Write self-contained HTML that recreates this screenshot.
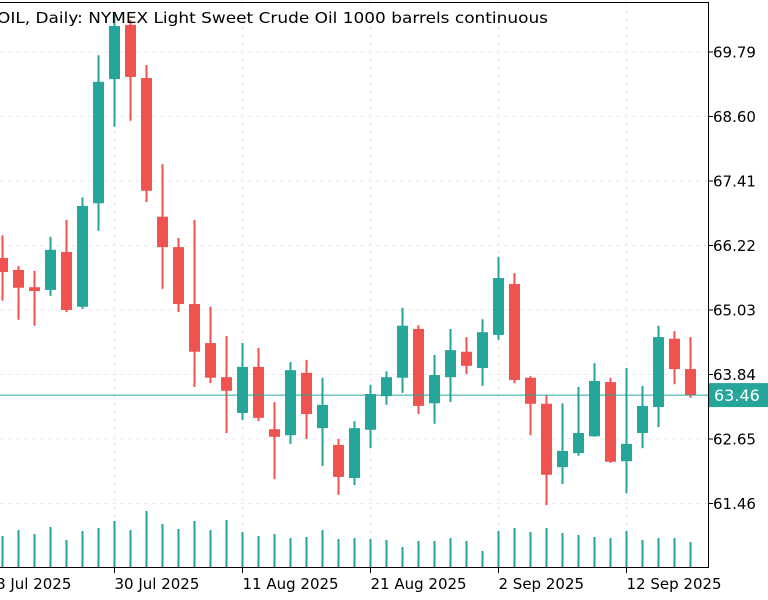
<!DOCTYPE html>
<html><head><meta charset="utf-8"><style>
html,body{margin:0;padding:0;background:#fff;}
svg{display:block;font-family:"DejaVu Sans","Liberation Sans",sans-serif;}
</style></head><body>
<svg id="chart" width="768" height="600" viewBox="0 0 768 600" xmlns="http://www.w3.org/2000/svg">
<g id="grid"></g>
<g id="vol"></g>
<g id="candles"></g>
<g id="axes"></g>
<text x="-3" y="23" font-size="15" fill="#000" textLength="551" lengthAdjust="spacingAndGlyphs">OIL, Daily:  NYMEX Light Sweet Crude Oil 1000 barrels continuous</text>
</svg>
<script>
const opens  = [65.99,65.77,65.45,65.40,66.10,65.09,67.00,69.29,70.29,69.31,66.75,66.19,65.14,64.42,63.79,63.13,63.98,62.83,62.72,63.87,62.85,62.54,61.93,62.82,63.44,63.78,64.68,63.31,63.79,64.26,63.96,64.57,65.51,63.78,63.30,62.13,62.39,62.70,63.70,62.24,62.76,63.24,64.50,63.94];
const highs  = [66.41,65.84,65.75,66.38,66.69,67.11,69.73,70.49,70.38,69.55,67.72,66.36,66.69,65.09,64.55,64.42,64.33,63.33,64.07,64.11,63.78,62.65,62.98,63.65,63.90,65.07,64.75,64.20,64.68,64.53,64.86,66.01,65.71,63.81,63.46,63.31,63.61,64.05,63.78,63.96,63.63,64.74,64.64,64.53];
const lows   = [65.20,64.85,64.74,65.29,64.99,65.05,66.49,68.41,68.52,67.02,65.42,64.99,63.61,63.68,62.76,63.00,62.98,61.91,62.56,62.65,62.15,61.62,61.80,62.48,63.28,63.50,63.11,62.93,63.33,63.85,63.63,64.48,63.68,62.72,61.43,61.82,62.34,62.69,62.21,61.65,62.48,62.87,63.66,63.41];
const closes = [65.73,65.44,65.38,66.14,65.03,66.95,69.24,70.27,69.33,67.23,66.19,65.14,64.26,63.78,63.54,63.98,63.04,62.69,63.92,63.11,63.28,61.95,62.85,63.48,63.79,64.74,63.26,63.83,64.29,64.00,64.62,65.62,63.74,63.30,61.99,62.43,62.76,63.72,62.23,62.56,63.26,64.53,63.94,63.46];
const volumes = [31,37,33,40,27,36,39,46,37,56,43,38,46,37,47,35,31,33,29,30,37,28,29,28,27,20,26,26,29,26,16,36,39,35,39,34,32,30,29,36,27,29,29,25];
const priceTicks = [69.79,68.60,67.41,66.22,65.03,63.84,62.65,61.46];
const dateTickIndex = [-1,7,15,23,31,39];
const dateTickLabels = ["18 Jul 2025","30 Jul 2025","11 Aug 2025","21 Aug 2025","2 Sep 2025","12 Sep 2025"];
const lastPrice = 63.46;

const NS="http://www.w3.org/2000/svg";
const PX=708, BOTTOM=567;
const x = i => 2.5 + i*16;
const y = p => 52 + (69.79 - p)*54.2;
const vy = v => BOTTOM - v;
const UP="#26a69a", DN="#ef5350";
function mk(tag, attrs, parent){const e=document.createElementNS(NS,tag);for(const k in attrs)e.setAttribute(k,attrs[k]);parent.appendChild(e);return e;}
const grid=document.getElementById('grid'), vol=document.getElementById('vol'), cg=document.getElementById('candles'), ax=document.getElementById('axes');

priceTicks.forEach(p=>{
  const l=mk('line',{x1:0,x2:PX,y1:y(p),y2:y(p),stroke:'#ececec','stroke-dasharray':'4,4','stroke-width':1},grid);
  
  
  const t=mk('line',{x1:PX,x2:PX+5,y1:y(p),y2:y(p),stroke:'#000'},ax);
  
  
  const tx=mk('text',{x:PX+5,y:y(p)+5.5,'font-size':15,fill:'#000'},ax);
  tx.textContent=p.toFixed(2);
  
  
});
dateTickIndex.forEach((i,k)=>{
  const l=mk('line',{x1:x(i),x2:x(i),y1:2,y2:BOTTOM,stroke:'#ececec','stroke-dasharray':'4,4','stroke-width':1},grid);
  
  
  const t=mk('line',{x1:x(i),x2:x(i),y1:BOTTOM,y2:BOTTOM+6,stroke:'#000'},ax);
  
  
  const tx=mk('text',{x:x(i),y:589,'font-size':15,fill:'#000'},ax);
  tx.textContent=dateTickLabels[k];
  
  
});
volumes.forEach((v,i)=>{
  const r=mk('rect',{x:x(i)-1,y:vy(v),width:2,height:v,fill:UP},vol);
  
  
});
opens.forEach((o,i)=>{
  const c=closes[i], col=c>=o?UP:DN;
  const g=mk('g',{},cg);
  
  
  mk('rect',{x:x(i)-1,y:y(highs[i]),width:2,height:Math.max(1,y(lows[i])-y(highs[i])),fill:col},g);
  const top=y(Math.max(o,c)), h=Math.max(2,Math.abs(y(o)-y(c)));
  mk('rect',{x:x(i)-5.5,y:top,width:11,height:h,fill:col},g);
});
const lp=mk('line',{x1:0,x2:PX,y1:y(lastPrice),y2:y(lastPrice),stroke:UP,'stroke-width':1},ax);


const lb=mk('rect',{x:PX+1,y:y(lastPrice)-12,width:60,height:24,fill:UP},ax);


const lt=mk('text',{x:PX+6,y:y(lastPrice)+6,'font-size':16,fill:'#fff'},ax);
lt.textContent=lastPrice.toFixed(2);


const f1=mk('path',{d:`M0 2.5H${PX+0.5}V${BOTTOM+0.5}H0`,fill:'none',stroke:'#000','stroke-width':1},ax);


</script>
</body></html>
